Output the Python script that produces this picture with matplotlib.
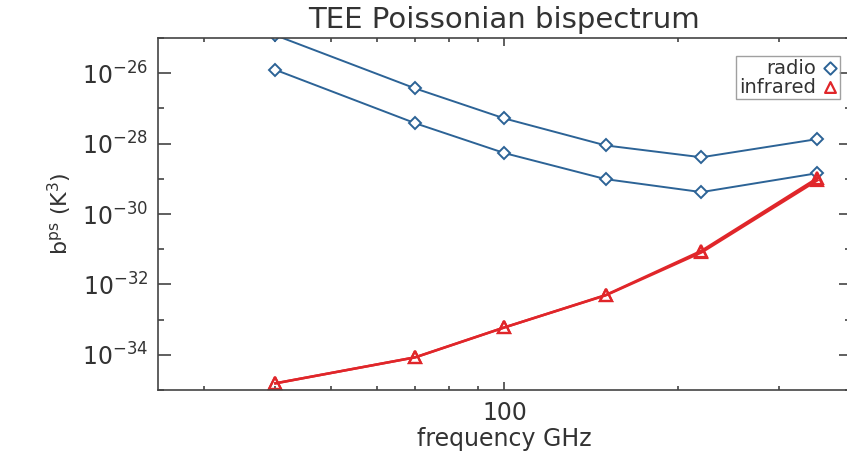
import numpy as np
import matplotlib
matplotlib.use("Agg")
import matplotlib.pyplot as plt
from matplotlib.ticker import FixedLocator, NullFormatter

# frequencies (GHz)
freq = [40, 70, 100, 150, 220, 350]

# b^ps values (K^3)
radio_high = [1.2e-25, 3.7e-27, 5.2e-28, 8.9e-29, 4.1e-29, 1.35e-28]
radio_low = [1.25e-26, 3.8e-28, 5.4e-29, 9.8e-30, 4.2e-30, 1.45e-29]
infrared_a = [1.55e-35, 8.5e-35, 6.0e-34, 4.9e-33, 8.1e-32, 9.1e-30]
infrared_b = [1.55e-35, 8.5e-35, 6.0e-34, 5.0e-33, 9.0e-32, 1.05e-29]

y_major = [1e-26, 1e-28, 1e-30, 1e-32, 1e-34]
y_labels = ["10$^{-26}$", "10$^{-28}$", "10$^{-30}$", "10$^{-32}$", "10$^{-34}$"]
y_minor = [1e-25, 1e-27, 1e-29, 1e-31, 1e-33, 1e-35]
x_minor = [30, 40, 50, 60, 70, 80, 90, 200, 300]

blue = "#2c6396"
red = "#e0262a"
txt = "#333333"

plt.rcParams["font.family"] = ["DejaVu Sans"]
plt.rcParams["mathtext.fontset"] = "dejavusans"

fig = plt.figure(figsize=(8.47, 4.53), dpi=100)
ax = fig.add_axes([0.1865, 0.139, 0.818, 0.777])

ax.plot(freq, radio_high, color=blue, lw=1.4, marker="D", ms=6.5, mfc="white",
        mec=blue, mew=1.4)
ax.plot(freq, radio_low, color=blue, lw=1.4, marker="D", ms=6.5, mfc="white",
        mec=blue, mew=1.4)
ax.plot(freq, infrared_b, color=red, lw=1.8, marker="^", ms=8, mfc="none",
        mec=red, mew=1.6)
ax.plot(freq, infrared_a, color=red, lw=1.8, marker="^", ms=8, mfc="none",
        mec=red, mew=1.6)

ax.set_xscale("log")
ax.set_yscale("log")
ax.set_xlim(25, 400)
ax.set_ylim(1e-35, 1e-25)

ax.xaxis.set_major_locator(FixedLocator([100]))
ax.set_xticklabels(["100"])
ax.xaxis.set_minor_locator(FixedLocator(x_minor))
ax.xaxis.set_minor_formatter(NullFormatter())
ax.yaxis.set_major_locator(FixedLocator(y_major))
ax.set_yticklabels(y_labels)
ax.yaxis.set_minor_locator(FixedLocator(y_minor))
ax.yaxis.set_minor_formatter(NullFormatter())

ax.tick_params(which="both", direction="in", top=True, right=True,
               colors="#444444", labelcolor=txt, labelsize=17, width=1.2)
ax.tick_params(axis="y", which="major", length=9, pad=7)
ax.tick_params(axis="y", which="minor", length=4.5)
ax.tick_params(axis="x", which="major", length=6, pad=8)
ax.tick_params(axis="x", which="minor", length=3)
for s in ax.spines.values():
    s.set_color("#444444")
    s.set_linewidth(1.2)

ax.set_title("TEE Poissonian bispectrum", fontsize=21, color=txt, pad=7)
ax.set_xlabel("frequency GHz", fontsize=17, color=txt, labelpad=1)
ax.set_ylabel("b$^{\\mathrm{ps}}$ (K$^3$)", fontsize=16, color=txt, labelpad=6)

h1 = ax.scatter([], [], marker="D", s=40, facecolor="white", edgecolor=blue, lw=1.4)
h2 = ax.scatter([], [], marker="^", s=60, facecolor="white", edgecolor=red, lw=1.6)
leg = ax.legend([h1, h2], ["radio", "infrared"], loc="upper right",
                bbox_to_anchor=(0.985, 0.95), markerfirst=False, fontsize=14,
                frameon=True, fancybox=False, handlelength=0.8, handletextpad=0.3,
                borderpad=0.15, labelspacing=0.0, borderaxespad=0)
leg.get_frame().set_edgecolor("#888888")
leg.get_frame().set_linewidth(1.0)
for t in leg.get_texts():
    t.set_color(txt)

fig.savefig("out.png", dpi=100)
